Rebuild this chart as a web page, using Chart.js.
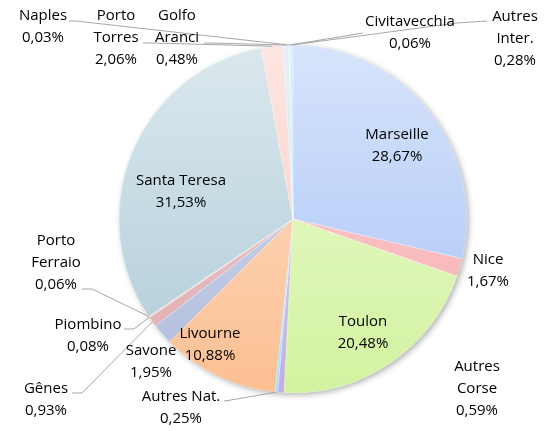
<!DOCTYPE html>
<html><head><meta charset="utf-8">
<script src="https://cdn.jsdelivr.net/npm/chart.js@4.4.1/dist/chart.umd.min.js"></script>
<style>html,body{margin:0;padding:0;background:#fff}canvas{display:block}</style>
</head><body>
<canvas id="c" width="551" height="431"></canvas>
<script>
// ---- data ----
const categories = ['Marseille','Nice','Toulon','Autres Corse','Autres Nat.','Livourne','Savone','Gênes','Piombino','Porto Ferraio','Santa Teresa','Porto Torres','Golfo Aranci','Naples','Civitavecchia','Autres Inter.'];
const shares = [28.67,1.67,20.48,0.59,0.25,10.88,1.95,0.93,0.08,0.06,31.53,2.06,0.48,0.03,0.06,0.28];
const labelLines = [['Marseille'],['Nice'],['Toulon'],['Autres','Corse'],['Autres Nat.'],['Livourne'],['Savone'],['Gênes'],['Piombino'],['Porto','Ferraio'],['Santa Teresa'],['Porto','Torres'],['Golfo','Aranci'],['Naples'],['Civitavecchia'],['Autres','Inter.']];

// ---- styles / layout ----
const baseColors = ['#a6c3f7','#f7a9ac','#d3f3a0','#c0aee6','#9fdff2','#fbbf91','#aebbdc','#dfa9ad','#c8dca0','#b3a3d6','#aecbd8','#fbc8bf','#c6dcf3','#bfe3c0','#c1b3e0','#a8e0ef'];
// text block position: [centerX, first line centerY]
const labelPos = [[397,135],[488,260],[363,322],[477,367],[181,397],[210,334],[151,351],[46,389],[88,325],[56,241],[181,181],[116,16],[177,16],[43,16],[410,22],[515,17]];
// leader line points on the label side (null = no leader)
const leaders = [null,null,null,null,[[224,401],[231,400]],null,null,[[72,393],[82,393]],[[124,329],[134,329]],[[82,289],[92,289]],null,[[143,43],[151,43]],[[204,43],[211,43]],[[69,21],[76,21]],[[363,33]],[[487,21],[457,23]]];
const FONT = '15px "Open Sans", Lato, sans-serif';
const LINE_H = 22;

function fmt(v){ return v.toFixed(2).replace('.',',') + '%'; }
function mix(hex, t){ // mix with white by t
  const n = parseInt(hex.slice(1),16);
  const r=(n>>16)&255,g=(n>>8)&255,b=n&255;
  const f=c=>Math.round(c+(255-c)*t);
  return `rgb(${f(r)},${f(g)},${f(b)})`;
}

const shadowPlugin = {
  id:'shadow',
  beforeDatasetsDraw(chart){
    const arc = chart.getDatasetMeta(0).data[0];
    if(!arc) return;
    const ctx = chart.ctx;
    ctx.save();
    ctx.shadowColor='rgba(0,0,0,0.35)';
    ctx.shadowBlur=6; ctx.shadowOffsetX=2; ctx.shadowOffsetY=2;
    ctx.fillStyle='#fff';
    ctx.beginPath(); ctx.arc(arc.x, arc.y, arc.outerRadius-0.5, 0, Math.PI*2); ctx.fill();
    ctx.restore();
  }
};

const labelPlugin = {
  id:'labels',
  afterDatasetsDraw(chart){
    const ctx = chart.ctx;
    const arcs = chart.getDatasetMeta(0).data;
    ctx.save();
    ctx.strokeStyle='#a6a6a6'; ctx.lineWidth=1;
    arcs.forEach((a,i)=>{
      const L = leaders[i]; if(!L) return;
      const mid=(a.startAngle+a.endAngle)/2;
      const px=a.x+Math.cos(mid)*a.outerRadius, py=a.y+Math.sin(mid)*a.outerRadius;
      ctx.beginPath();
      ctx.moveTo(L[0][0],L[0][1]);
      for(let k=1;k<L.length;k++) ctx.lineTo(L[k][0],L[k][1]);
      ctx.lineTo(px,py);
      ctx.stroke();
    });
    ctx.font=FONT; ctx.fillStyle='#000'; ctx.textAlign='center'; ctx.textBaseline='middle';
    arcs.forEach((a,i)=>{
      const lines = labelLines[i].concat([fmt(shares[i])]);
      const [x,y]=labelPos[i];
      lines.forEach((t,k)=>ctx.fillText(t,x,y+k*LINE_H));
    });
    ctx.restore();
  }
};

new Chart(document.getElementById('c'),{
  type:'pie',
  data:{labels:categories,datasets:[{data:shares,
    backgroundColor(ctx){
      const ca = ctx.chart.chartArea; const c = baseColors[ctx.dataIndex];
      if(!ca) return c;
      const g = ctx.chart.ctx.createLinearGradient(0,45,0,393);
      g.addColorStop(0,mix(c,0.55)); g.addColorStop(1,c);
      return g;
    },
    borderColor:'rgba(255,255,255,0.5)', borderWidth:0.5, hoverOffset:0, offset:0}]},
  options:{responsive:false,animation:false,radius:174,
    layout:{padding:{left:40,right:5,top:10,bottom:3}},
    plugins:{legend:{display:false},tooltip:{enabled:false}},
    events:[]},
  plugins:[shadowPlugin,labelPlugin]
});
</script>
</body></html>
